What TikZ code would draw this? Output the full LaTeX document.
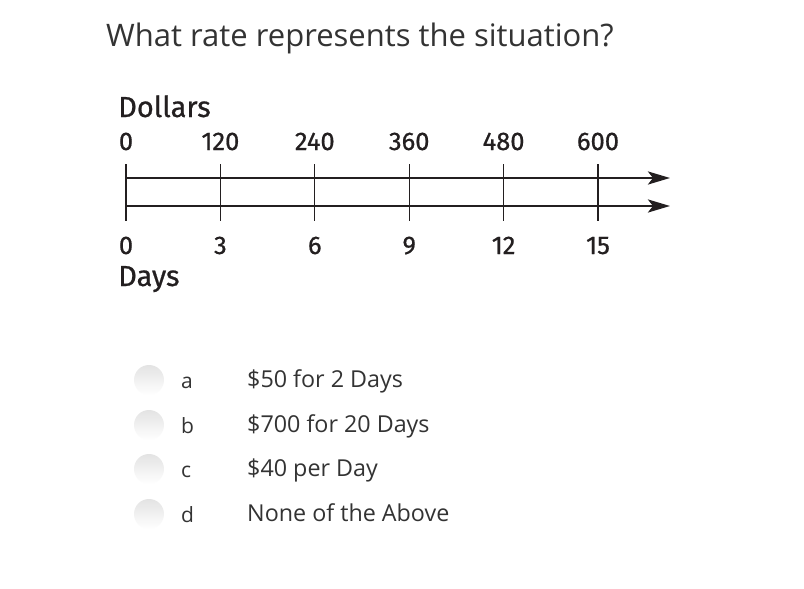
\documentclass[tikz,border=0pt]{standalone}
\usepackage{fontspec}
\setmainfont{Open Sans}
\newfontfamily\nlfont[FakeBold=0.7]{Fira Sans}
\usetikzlibrary{arrows.meta}
\definecolor{txt}{HTML}{333333}
\definecolor{nl}{HTML}{231F20}
\begin{document}
\begin{tikzpicture}[x=1pt,y=-1pt,
  title/.style={anchor=base west,inner sep=0,text=txt,font=\fontsize{31}{33}\selectfont},
  nlabel/.style={anchor=base,inner sep=0,text=nl,font=\nlfont\fontsize{25.5}{27}\selectfont},
  axname/.style={anchor=base west,inner sep=0,text=nl,font=\nlfont\fontsize{29}{31}\selectfont},
  axis/.style={line width=2.6pt,draw=nl,-{Stealth[length=22pt,width=13pt,inset=5pt]}},
  tick/.style={line width=1.3pt,draw=nl},
  letter/.style={anchor=base west,inner sep=0,text=txt,font=\fontsize{21}{23}\selectfont},
  option/.style={anchor=base west,inner sep=0,text=txt,font=\fontsize{23.3}{26}\selectfont},
  radio/.style={circle,minimum size=30pt,inner sep=0,top color=gray!22,bottom color=white,draw=none}
]
\useasboundingbox[fill=white] (0,0) rectangle (804,589);
\node[title] (title) at (106,46) {What rate represents the situation?};
\node[axname] (dollars) at (118,117) {Dollars};
\node[axname] (days) at (118,286) {Days};
% axes
\coordinate (t0) at (126,178);
\coordinate (te) at (670,178);
\coordinate (b0) at (126,206);
\coordinate (be) at (670,206);
\draw[axis] (t0) -- (te);
\draw[axis] (b0) -- (be);
\foreach \i/\d/\n in {0/0/0,1/120/3,2/240/6,3/360/9,4/480/12,5/600/15}{
  \coordinate (u\i) at ({126+94.4*\i},164);
  \coordinate (l\i) at ({126+94.4*\i},221);
  \draw[tick] (u\i) -- (l\i);
  \node[nlabel] (d\i) at ({126+94.4*\i},150) {\d};
  \node[nlabel] (n\i) at ({126+94.4*\i},254) {\n};
}
% options
\foreach \k/\y/\l/\t in {a/380/a/{\$50 for 2 Days},b/425/b/{\$700 for 20 Days},c/469/c/{\$40 per Day},d/514/d/{None of the Above}}{
  \node[radio] (r\k) at (149,\y) {};
  \node[letter] (L\k) at (181,{\y+8}) {\l};
  \node[option] (o\k) at (247,{\y+7}) {\t};
}
\end{tikzpicture}
\end{document}
